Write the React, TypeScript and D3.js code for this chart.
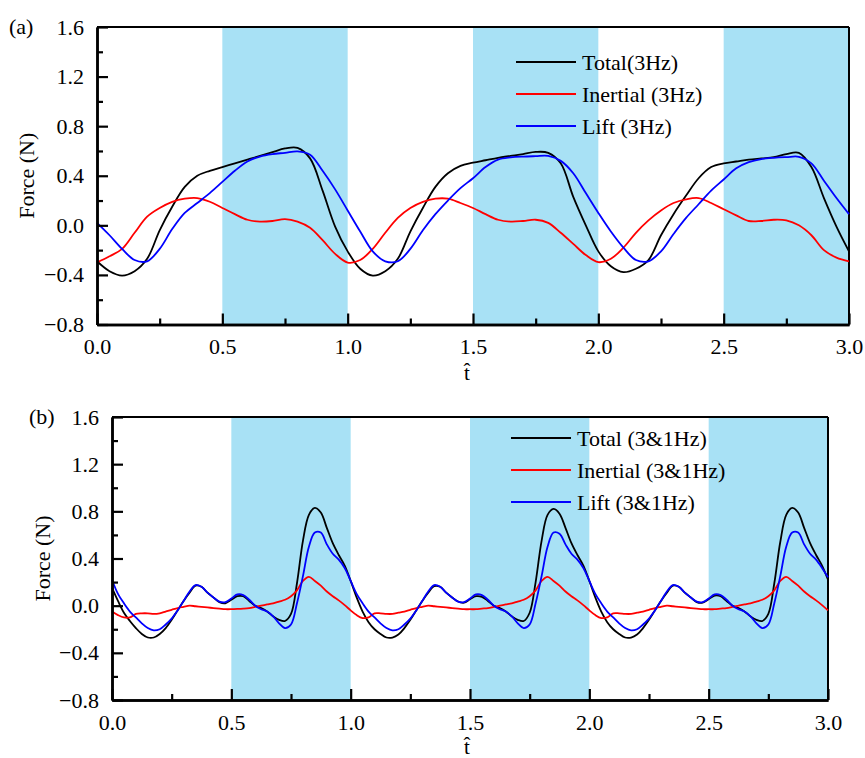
import React, { useEffect, useRef } from "react";
import { axisBottom, axisLeft, scaleLinear, select, line, curveCatmullRom, format, range } from "d3";

// sample times
const tA = range(0, 61).map((i) => +(i * 0.05).toFixed(3));
const tB = range(0, 121).map((i) => +(i * 0.025).toFixed(3));

// panel (a), 3Hz
const totalA = [
  -0.29, -0.37, -0.405, -0.37, -0.27, -0.04, 0.15, 0.31, 0.4, 0.44,
  0.47, 0.5, 0.53, 0.56, 0.59, 0.62, 0.625, 0.54, 0.28, -0.01,
  -0.21, -0.35, -0.405, -0.37, -0.27, -0.05, 0.14, 0.31, 0.42, 0.48,
  0.505, 0.525, 0.545, 0.56, 0.575, 0.592, 0.585, 0.5, 0.23, 0.0,
  -0.21, -0.33, -0.378, -0.35, -0.28, -0.08, 0.09, 0.24, 0.38, 0.47,
  0.5, 0.515, 0.53, 0.54, 0.55, 0.575, 0.585, 0.47, 0.22, -0.01,
  -0.21,
];
const inertialA = [
  -0.3, -0.25, -0.19, -0.06, 0.07, 0.14, 0.19, 0.215, 0.22, 0.19,
  0.14, 0.09, 0.045, 0.03, 0.035, 0.05, 0.03, -0.02, -0.12, -0.23,
  -0.3, -0.28, -0.19, -0.06, 0.06, 0.14, 0.19, 0.215, 0.215, 0.18,
  0.14, 0.09, 0.045, 0.03, 0.035, 0.045, 0.02, -0.06, -0.15, -0.24,
  -0.297, -0.27, -0.18, -0.06, 0.04, 0.12, 0.18, 0.21, 0.22, 0.18,
  0.13, 0.08, 0.035, 0.035, 0.045, 0.04, 0.0, -0.08, -0.2, -0.26,
  -0.29,
];
const liftA = [
  0.02, -0.08, -0.19, -0.28, -0.29, -0.19, -0.03, 0.1, 0.18, 0.26,
  0.35, 0.44, 0.515, 0.555, 0.575, 0.585, 0.597, 0.57, 0.44, 0.29,
  0.12, -0.05, -0.21, -0.29, -0.29, -0.19, -0.04, 0.09, 0.2, 0.3,
  0.38, 0.47, 0.53, 0.548, 0.555, 0.558, 0.56, 0.52, 0.42, 0.26,
  0.1, -0.05, -0.18, -0.28, -0.29, -0.21, -0.07, 0.06, 0.17, 0.28,
  0.37, 0.46, 0.51, 0.535, 0.545, 0.55, 0.553, 0.5, 0.36, 0.22,
  0.09,
];

// panel (b), 3&1Hz
const totalB = [
  0.15, 0.04, -0.06, -0.13, -0.19, -0.24, -0.27, -0.27, -0.24, -0.19,
  -0.12, -0.04, 0.04, 0.11, 0.17, 0.16, 0.11, 0.07, 0.03, 0.02,
  0.05, 0.08, 0.08, 0.04, 0.0, -0.02, -0.05, -0.09, -0.12, -0.13,
  -0.07, 0.19, 0.55, 0.77, 0.83, 0.79, 0.66, 0.53, 0.43, 0.34,
  0.21, 0.07, -0.05, -0.14, -0.2, -0.24, -0.27, -0.27, -0.245, -0.19,
  -0.12, -0.04, 0.04, 0.11, 0.165, 0.16, 0.11, 0.07, 0.035, 0.025,
  0.055, 0.08, 0.075, 0.04, 0.0, -0.02, -0.05, -0.09, -0.12, -0.13,
  -0.06, 0.2, 0.55, 0.77, 0.82, 0.78, 0.66, 0.53, 0.43, 0.34,
  0.21, 0.07, -0.05, -0.14, -0.2, -0.24, -0.27, -0.27, -0.245, -0.19,
  -0.12, -0.04, 0.04, 0.11, 0.17, 0.16, 0.11, 0.07, 0.03, 0.025,
  0.055, 0.085, 0.08, 0.04, 0.0, -0.02, -0.05, -0.09, -0.12, -0.13,
  -0.07, 0.19, 0.54, 0.77, 0.83, 0.79, 0.66, 0.53, 0.43, 0.34,
  0.22,
];
const inertialB = [
  -0.05, -0.08, -0.1, -0.1, -0.07, -0.065, -0.065, -0.07, -0.065, -0.05,
  -0.035, -0.02, -0.01, 0.0, -0.005, -0.01, -0.015, -0.02, -0.025, -0.03,
  -0.03, -0.028, -0.025, -0.02, -0.01, 0.0, 0.01, 0.02, 0.035, 0.05,
  0.08, 0.13, 0.21, 0.245, 0.21, 0.17, 0.12, 0.08, 0.045, 0.005,
  -0.04, -0.08, -0.105, -0.1, -0.065, -0.065, -0.07, -0.07, -0.06, -0.05,
  -0.035, -0.02, -0.01, 0.0, -0.005, -0.01, -0.015, -0.02, -0.025, -0.03,
  -0.03, -0.03, -0.025, -0.02, -0.01, 0.0, 0.01, 0.02, 0.035, 0.05,
  0.08, 0.13, 0.21, 0.245, 0.21, 0.17, 0.12, 0.08, 0.045, 0.005,
  -0.04, -0.08, -0.105, -0.1, -0.065, -0.065, -0.07, -0.07, -0.06, -0.05,
  -0.035, -0.02, -0.01, 0.0, -0.005, -0.01, -0.015, -0.02, -0.025, -0.03,
  -0.03, -0.03, -0.025, -0.02, -0.01, 0.0, 0.01, 0.02, 0.035, 0.05,
  0.08, 0.13, 0.21, 0.245, 0.21, 0.17, 0.12, 0.08, 0.045, 0.005,
  -0.04,
];
const liftB = [
  0.22, 0.1, 0.02, -0.05, -0.1, -0.15, -0.19, -0.21, -0.2, -0.16,
  -0.11, -0.04, 0.04, 0.12, 0.175, 0.16, 0.11, 0.07, 0.035, 0.03,
  0.06, 0.095, 0.09, 0.05, 0.0, -0.03, -0.05, -0.09, -0.15, -0.19,
  -0.16, 0.02, 0.25, 0.5, 0.62, 0.62, 0.52, 0.44, 0.39, 0.32,
  0.21, 0.1, 0.02, -0.05, -0.1, -0.15, -0.19, -0.21, -0.2, -0.16,
  -0.11, -0.04, 0.04, 0.12, 0.175, 0.16, 0.11, 0.07, 0.035, 0.03,
  0.06, 0.095, 0.09, 0.05, 0.0, -0.03, -0.05, -0.09, -0.15, -0.19,
  -0.16, 0.02, 0.25, 0.5, 0.62, 0.61, 0.52, 0.44, 0.39, 0.32,
  0.21, 0.1, 0.02, -0.05, -0.1, -0.15, -0.19, -0.21, -0.2, -0.16,
  -0.11, -0.04, 0.04, 0.12, 0.175, 0.16, 0.11, 0.07, 0.035, 0.03,
  0.06, 0.095, 0.09, 0.05, 0.0, -0.03, -0.05, -0.09, -0.15, -0.19,
  -0.16, 0.02, 0.25, 0.5, 0.62, 0.62, 0.52, 0.44, 0.39, 0.32,
  0.24,
];

const shaded = [[0.5, 1.0], [1.5, 2.0], [2.5, 3.0]];
const xTicks = [0, 0.5, 1, 1.5, 2, 2.5, 3];
const xMinor = [0.25, 0.75, 1.25, 1.75, 2.25, 2.75];
const yTicks = [-0.8, -0.4, 0, 0.4, 0.8, 1.2, 1.6];
const yMinor = [-0.6, -0.2, 0.2, 0.6, 1.0, 1.4];

const legendA = ["Total(3Hz)", "Inertial (3Hz)", "Lift (3Hz)"];
const legendB = ["Total (3&1Hz)", "Inertial (3&1Hz)", "Lift (3&1Hz)"];
const colors = ["#000000", "#ff0000", "#0000ff"];

const FONT = "Liberation Serif, Times New Roman, Times, DejaVu Serif, serif";

function styleAxis(g) {
  g.selectAll(".domain").attr("stroke-width", 2.5);
  g.selectAll(".tick line").attr("stroke-width", 2.2);
  g.selectAll("g").attr("font-family", null).attr("font-size", null);
  g.selectAll("text")
    .attr("fill", "#000")
    .attr("font-family", FONT)
    .attr("font-size", 22)
    .style("font-family", FONT)
    .style("font-size", "22px");
}

function AxisBottom({ scale, transform }) {
  const ref = useRef(null);
  useEffect(() => {
    const g = select(ref.current);
    g.selectAll("*").remove();
    g.append("g").call(axisBottom(scale).tickValues(xMinor).tickSize(-6).tickSizeOuter(0).tickFormat(() => ""));
    g.append("g").call(axisBottom(scale).tickValues(xTicks).tickSize(-11).tickSizeOuter(0).tickPadding(14).tickFormat(format(".1f")));
    styleAxis(g);
  }, [scale]);
  return <g ref={ref} transform={transform} />;
}

function AxisLeft({ scale, transform }) {
  const ref = useRef(null);
  useEffect(() => {
    const g = select(ref.current);
    g.selectAll("*").remove();
    g.append("g").call(axisLeft(scale).tickValues(yMinor).tickSize(-6).tickSizeOuter(0).tickFormat(() => ""));
    g.append("g").call(axisLeft(scale).tickValues(yTicks).tickSize(-11).tickSizeOuter(0).tickPadding(13).tickFormat(format(".1f")));
    styleAxis(g);
  }, [scale]);
  return <g ref={ref} transform={transform} />;
}

function Panel({ box, t, series, legend, legendPos, label, labelPos, yLabelX, tHatY }) {
  const { left, right, top, bottom } = box;
  const x = scaleLinear().domain([0, 3]).range([left, right]);
  const y = scaleLinear().domain([-0.8, 1.6]).range([bottom, top]);
  const path = line().x((d, i) => x(t[i])).y((d) => y(d)).curve(curveCatmullRom.alpha(0.5));
  const mid = (top + bottom) / 2;
  return (
    <g>
      {shaded.map(([a, b]) => (
        <rect key={a} x={x(a)} y={top + 1} width={x(b) - x(a)} height={bottom - top - 1} fill="#a8e1f5" />
      ))}
      <line x1={left} x2={right} y1={top} y2={top} stroke="#000" strokeWidth={2} />
      <line x1={right} x2={right} y1={top} y2={bottom} stroke="#000" strokeWidth={2} />
      {series.map((s, i) => (
        <path key={i} d={path(s)} fill="none" stroke={colors[i]} strokeWidth={1.8} />
      ))}
      <AxisBottom scale={x} transform={`translate(0, ${bottom})`} />
      <AxisLeft scale={y} transform={`translate(${left}, 0)`} />
      {legend.map((name, i) => (
        <g key={name} transform={`translate(${legendPos[0]}, ${legendPos[1] + i * 32})`}>
          <line x1={0} x2={60} y1={0} y2={0} stroke={colors[i]} strokeWidth={2} />
          <text x={66} y={0} dy="0.35em" fontSize={22} fontFamily={FONT}>{name}</text>
        </g>
      ))}
      <text x={labelPos[0]} y={labelPos[1]} fontSize={22} fontFamily={FONT}>{label}</text>
      <text transform={`translate(${yLabelX}, ${mid}) rotate(-90)`} textAnchor="middle" fontSize={22} fontFamily={FONT}>Force (N)</text>
      <text x={467} y={tHatY} textAnchor="middle" fontSize={21} fontFamily={FONT}>{"t\u0302"}</text>
    </g>
  );
}

export default function App() {
  return (
    <svg width={865} height={758} style={{ position: "absolute", left: 0, top: 0, background: "#fff" }}>
      <Panel
        box={{ left: 97, right: 849, top: 27, bottom: 324.5 }}
        t={tA}
        series={[totalA, inertialA, liftA]}
        legend={legendA}
        legendPos={[516, 62]}
        label="(a)"
        labelPos={[9, 34]}
        yLabelX={34}
        tHatY={380}
      />
      <Panel
        box={{ left: 112, right: 828, top: 417, bottom: 700 }}
        t={tB}
        series={[totalB, inertialB, liftB]}
        legend={legendB}
        legendPos={[511, 438]}
        label="(b)"
        labelPos={[29, 424]}
        yLabelX={50}
        tHatY={754}
      />
    </svg>
  );
}
